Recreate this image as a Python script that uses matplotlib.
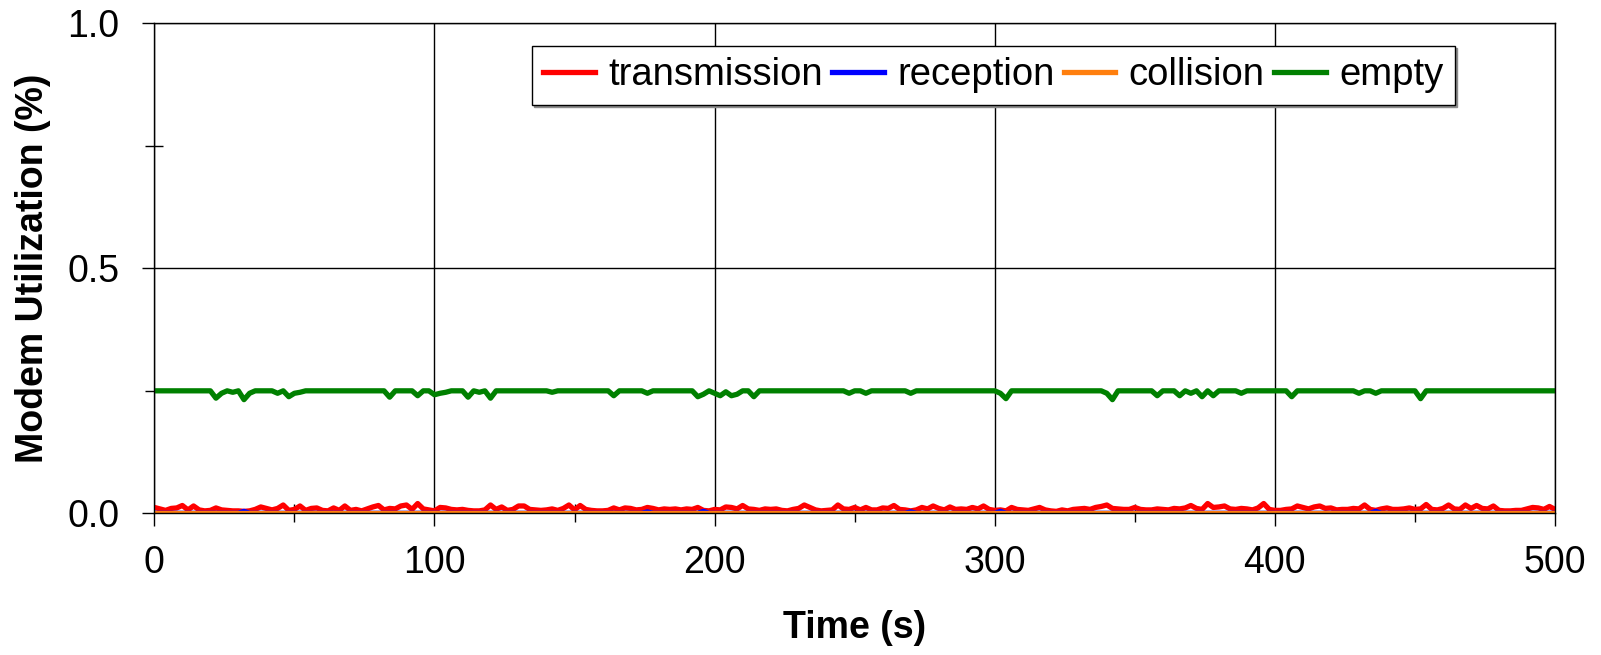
import numpy as np
import matplotlib
matplotlib.use("Agg")
import matplotlib.pyplot as plt

plt.rcParams['font.family'] = ['Liberation Sans', 'DejaVu Sans']

# time axis, one sample every 2 s
time = np.arange(0, 501, 2)

# transmission share
transmission = [
    .012, .009, .006, .010, .011, .016, .007, .015, .007, .005,
    .006, .011, .007, .006, .005, .005, .004, .005, .008, .013,
    .010, .007, .010, .017, .006, .008, .015, .006, .010, .011,
    .006, .005, .011, .006, .015, .006, .008, .005, .009, .013,
    .016, .007, .010, .009, .015, .017, .008, .020, .009, .007,
    .005, .012, .011, .008, .007, .008, .006, .005, .005, .007,
    .017, .008, .013, .006, .008, .015, .015, .008, .007, .006,
    .007, .009, .006, .010, .017, .007, .016, .008, .006, .005,
    .005, .006, .011, .007, .011, .010, .007, .008, .012, .010,
    .007, .009, .008, .009, .007, .009, .008, .012, .006, .005,
    .008, .007, .013, .012, .009, .016, .009, .008, .006, .009,
    .008, .009, .006, .005, .008, .010, .017, .012, .007, .005,
    .006, .007, .017, .009, .008, .012, .007, .012, .007, .007,
    .011, .010, .016, .008, .007, .005, .007, .012, .009, .015,
    .010, .007, .013, .008, .009, .008, .012, .009, .015, .008,
    .006, .007, .005, .012, .008, .007, .006, .009, .012, .007,
    .005, .004, .007, .005, .008, .009, .010, .008, .012, .014,
    .017, .010, .009, .008, .008, .012, .008, .007, .007, .009,
    .008, .007, .010, .009, .011, .016, .010, .008, .020, .012,
    .013, .015, .009, .008, .010, .009, .007, .011, .020, .008,
    .006, .006, .008, .009, .015, .012, .009, .013, .015, .010,
    .011, .007, .008, .008, .010, .009, .017, .008, .006, .009,
    .011, .008, .008, .009, .011, .008, .009, .018, .008, .007,
    .010, .017, .009, .008, .017, .010, .016, .010, .009, .015,
    .006, .005, .005, .006, .006, .009, .012, .011, .008, .014,
    .008,
]

reception = [
    0, 0, 0, 0, 0, 0, 0, 0, 0, 0, 0, 0, 0, 0, 0, 0, .004, 0, 0, 0, 0, 0, 0, 0, 0,
    0, 0, 0, 0, 0, 0, 0, 0, 0, 0, 0, 0, 0, 0, 0, 0, 0, 0, 0, 0, 0, 0, 0, 0, 0,
    0, 0, 0, 0, 0, 0, 0, 0, 0, 0, 0, 0, 0, 0, 0, 0, 0, 0, 0, 0, 0, 0, 0, 0, 0,
    0, 0, 0, 0, 0, 0, 0, 0, 0, 0, 0, 0, 0, .003, 0, 0, 0, 0, 0, 0, 0, 0, 0, .004, 0,
    0, 0, 0, 0, 0, 0, 0, 0, 0, 0, 0, 0, 0, 0, 0, 0, 0, 0, 0, 0, 0, 0, 0, 0, 0,
    0, 0, 0, 0, 0, 0, 0, 0, 0, 0, .003, 0, 0, 0, 0, 0, 0, 0, 0, 0, 0, 0, 0, 0, 0,
    0, .004, 0, 0, 0, 0, 0, 0, 0, 0, 0, 0, 0, 0, 0, 0, 0, 0, 0, 0, 0, 0, 0, 0, 0,
    0, 0, 0, 0, 0, 0, 0, 0, 0, 0, 0, 0, 0, 0, 0, 0, 0, 0, 0, 0, 0, 0, 0, 0, 0,
    0, 0, 0, 0, 0, 0, 0, 0, 0, 0, 0, 0, 0, 0, 0, 0, 0, 0, .004, 0, 0, 0, 0, 0, 0,
    0, 0, 0, 0, 0, 0, 0, 0, 0, 0, 0, 0, 0, 0, 0, 0, 0, 0, 0, 0, 0, 0, 0, 0, 0,
    0,
]

collision = [0.0] * len(time)

empty = [
    .25, .25, .25, .25, .25, .25, .25, .25, .25, .25,
    .25, .235, .245, .25, .247, .25, .232, .245, .25, .25,
    .25, .25, .245, .25, .238, .245, .247, .25, .25, .25,
    .25, .25, .25, .25, .25, .25, .25, .25, .25, .25,
    .25, .25, .237, .25, .25, .25, .25, .240, .25, .25,
    .242, .245, .247, .25, .25, .25, .237, .25, .247, .25,
    .235, .25, .25, .25, .25, .25, .25, .25, .25, .25,
    .25, .247, .25, .25, .25, .25, .25, .25, .25, .25,
    .25, .25, .240, .25, .25, .25, .25, .25, .245, .25,
    .25, .25, .25, .25, .25, .25, .25, .238, .243, .25,
    .245, .240, .248, .240, .243, .25, .25, .238, .25, .25,
    .25, .25, .25, .25, .25, .25, .25, .25, .25, .25,
    .25, .25, .25, .25, .245, .25, .25, .245, .25, .25,
    .25, .25, .25, .25, .25, .245, .25, .25, .25, .25,
    .25, .25, .25, .25, .25, .25, .25, .25, .25, .25,
    .25, .245, .234, .25, .25, .25, .25, .25, .25, .25,
    .25, .25, .25, .25, .25, .25, .25, .25, .25, .25,
    .245, .232, .25, .25, .25, .25, .25, .25, .25, .240,
    .25, .25, .25, .240, .25, .245, .25, .238, .25, .240,
    .25, .25, .25, .25, .245, .25, .25, .25, .25, .25,
    .25, .25, .25, .238, .25, .25, .25, .25, .25, .25,
    .25, .25, .25, .25, .25, .245, .25, .25, .245, .25,
    .25, .25, .25, .25, .25, .25, .234, .25, .25, .25,
    .25, .25, .25, .25, .25, .25, .25, .25, .25, .25,
    .25, .25, .25, .25, .25, .25, .25, .25, .25, .25,
    .25,
]

fig = plt.figure(figsize=(16.01, 6.55), dpi=100)
ax = fig.add_axes([0.0964, 0.2163, 0.8749, 0.7481])

lw = 3.8
ax.plot(time, transmission, color='#FF0000', lw=lw, label='transmission')
ax.plot(time, reception, color='#0000FF', lw=lw, label='reception')
ax.plot(time, collision, color='#FF7F0E', lw=lw, label='collision')
ax.plot(time, empty, color='#008000', lw=lw, label='empty')

ax.set_xlim(0, 500)
ax.set_ylim(0, 1.0)
ax.set_xticks([0, 100, 200, 300, 400, 500])
ax.set_xticks([50, 150, 250, 350, 450], minor=True)
ax.set_yticks([0, 0.5, 1.0])
ax.set_yticklabels(['0.0', '0.5', '1.0'])
ax.set_yticks([0.25, 0.75], minor=True)

ax.grid(True, which='major', color='black', lw=1)
ax.set_axisbelow(True)
for s in ax.spines.values():
    s.set_color('black')
    s.set_linewidth(1)

ax.tick_params(which='major', direction='out', length=9, width=1, labelsize=27, pad=14)
ax.tick_params(axis='y', which='major', pad=16)
ax.tick_params(which='minor', direction='inout', length=12.5, width=1)

ax.set_xlabel('Time (s)', fontsize=27, fontweight='bold', labelpad=21)
ax.set_ylabel('Modem Utilization (%)', fontsize=27, fontweight='bold', labelpad=12)

leg = ax.legend(loc='upper right', bbox_to_anchor=(0.9286, 0.9537), ncol=4,
                fontsize=27.5, frameon=True, fancybox=False, borderaxespad=0,
                handlelength=1.35, handletextpad=0.35, columnspacing=0.25,
                borderpad=0.3, shadow={'ox': 1.5, 'oy': -1.5, 'color': '0.55', 'alpha': 1})
leg.get_frame().set_edgecolor('black')
leg.get_frame().set_linewidth(1)

fig.savefig('out.png', dpi=100)
